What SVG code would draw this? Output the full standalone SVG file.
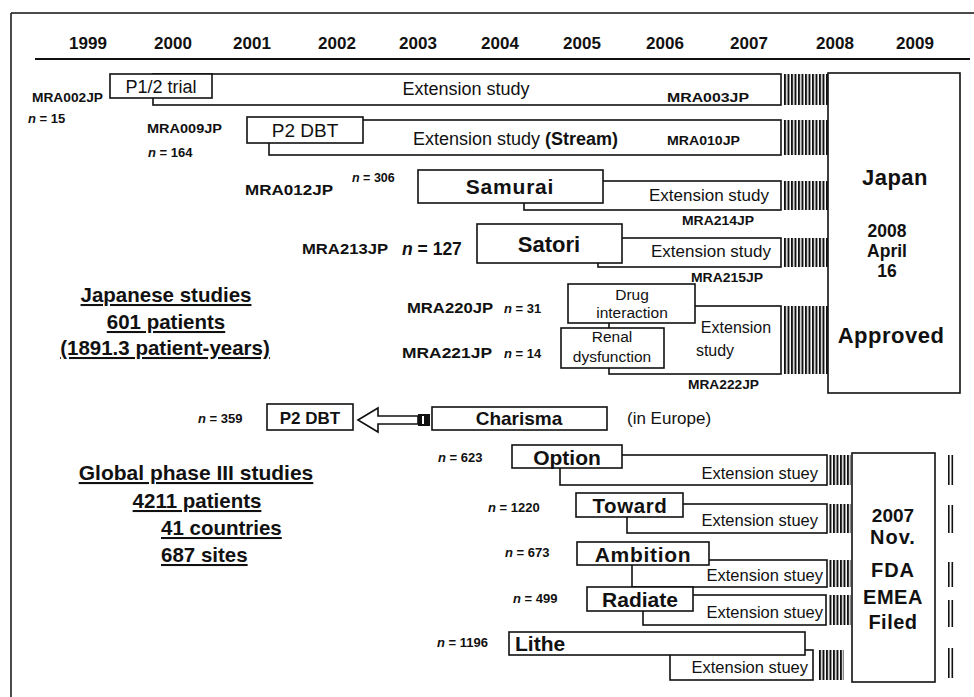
<svg xmlns="http://www.w3.org/2000/svg" width="974" height="697" viewBox="0 0 974 697">
<defs>
<pattern id="hatch" width="3.5" height="10" patternUnits="userSpaceOnUse"><rect x="0" y="0" width="2" height="10" fill="#111"/></pattern>
<style>
text{font-family:"Liberation Sans",Arial,sans-serif;fill:#111}
.box{fill:#fff;stroke:#111;stroke-width:1.6}
.ext{fill:#fff;stroke:#111;stroke-width:1.6}
.hatch{fill:url(#hatch)}
.yr{font-size:17px;font-weight:bold;text-anchor:middle}
.code{font-size:12.5px;font-weight:bold}
.n{font-size:13px;font-weight:bold}
.reg{font-size:18px;text-anchor:middle}
.ttl{font-size:21px;font-weight:bold;text-anchor:middle}
.sum{font-size:20.5px;font-weight:bold;text-decoration:underline}
.ex{font-size:16.5px;text-anchor:end}
.big{font-size:20px;font-weight:bold;text-anchor:middle}
</style>
</defs>
<rect x="0" y="0" width="974" height="697" fill="#fff"/>
<g id="frame" fill="none" stroke="#111" stroke-width="1.5">
<line x1="11" y1="13" x2="974" y2="13"/>
<line x1="11" y1="13" x2="11" y2="697"/>
</g>
<g id="timeline">
<text class="yr" x="88" y="49">1999</text>
<text class="yr" x="173" y="49">2000</text>
<text class="yr" x="252" y="49">2001</text>
<text class="yr" x="337" y="49">2002</text>
<text class="yr" x="418" y="49">2003</text>
<text class="yr" x="500" y="49">2004</text>
<text class="yr" x="582" y="49">2005</text>
<text class="yr" x="665" y="49">2006</text>
<text class="yr" x="749" y="49">2007</text>
<text class="yr" x="835" y="49">2008</text>
<text class="yr" x="915" y="49">2009</text>
<line x1="35" y1="59" x2="970" y2="59" stroke="#111" stroke-width="2"/>
</g>
<g id="mra002">
<rect class="ext" x="153" y="74" width="628" height="31"/>
<rect class="box" x="110" y="74" width="102" height="24"/>
<text class="reg" x="161" y="93">P1/2 trial</text>
<text class="reg" x="466" y="95">Extension study</text>
<text class="code" x="667" y="101.5" textLength="82" lengthAdjust="spacingAndGlyphs">MRA003JP</text>
<text class="code" x="32" y="101.5" textLength="71" lengthAdjust="spacingAndGlyphs">MRA002JP</text>
<text class="n" x="28" y="122.5"><tspan font-style="italic">n</tspan> = 15</text>
<rect class="hatch" x="783" y="74" width="45" height="31"/>
</g>
<g id="mra009">
<rect class="ext" x="269" y="120" width="512" height="35"/>
<rect class="box" x="247" y="117" width="116" height="26"/>
<text class="reg" x="305" y="137" style="font-size:19px">P2 DBT</text>
<text x="413" y="144.5" style="font-size:18px">Extension study <tspan font-weight="bold">(Stream)</tspan></text>
<text class="code" x="667" y="144.5" textLength="73" lengthAdjust="spacingAndGlyphs">MRA010JP</text>
<text class="code" x="147" y="132.5" textLength="75" lengthAdjust="spacingAndGlyphs">MRA009JP</text>
<text class="n" x="148" y="156.5"><tspan font-style="italic">n</tspan> = 164</text>
<rect class="hatch" x="783" y="120" width="45" height="35"/>
</g>
<g id="samurai">
<rect class="ext" x="524" y="181" width="257" height="29"/>
<rect class="box" x="418" y="170" width="185" height="33"/>
<text class="ttl" x="510" y="194" letter-spacing="0.8">Samurai</text>
<text class="reg" x="709" y="201" style="font-size:17px">Extension study</text>
<text class="code" x="682" y="224.5" textLength="72" lengthAdjust="spacingAndGlyphs">MRA214JP</text>
<text class="code" x="245" y="195" style="font-size:15px" textLength="88" lengthAdjust="spacingAndGlyphs">MRA012JP</text>
<text class="n" x="352" y="182" style="font-size:12.5px"><tspan font-style="italic">n</tspan> = 306</text>
<rect class="hatch" x="783" y="181" width="45" height="29"/>
</g>
<g id="satori">
<rect class="ext" x="598" y="238" width="183" height="29"/>
<rect class="box" x="477" y="224" width="145" height="39"/>
<text class="ttl" x="549" y="252" style="font-size:22px">Satori</text>
<text class="reg" x="711" y="257" style="font-size:17px">Extension study</text>
<text class="code" x="691" y="281.5" textLength="72" lengthAdjust="spacingAndGlyphs">MRA215JP</text>
<text class="code" x="302" y="253.5" style="font-size:15px" textLength="86" lengthAdjust="spacingAndGlyphs">MRA213JP</text>
<text class="n" x="402" y="254.5" style="font-size:17.5px"><tspan font-style="italic">n</tspan> = 127</text>
<rect class="hatch" x="783" y="238" width="45" height="29"/>
</g>
<g id="mra220-221">
<rect class="ext" x="609" y="306" width="172" height="68"/>
<rect class="box" x="568" y="284" width="127" height="39"/>
<text class="reg" x="632" y="300" style="font-size:15.5px">Drug</text>
<text class="reg" x="632" y="318" style="font-size:15.5px">interaction</text>
<rect class="box" x="561" y="328" width="103" height="40"/>
<text class="reg" x="612" y="342" style="font-size:15.5px">Renal</text>
<text class="reg" x="612" y="362" style="font-size:15.5px">dysfunction</text>
<text class="reg" x="736" y="333" style="font-size:16px">Extension</text>
<text class="reg" x="715" y="356" style="font-size:16px">study</text>
<text class="code" x="688" y="388.5" textLength="71" lengthAdjust="spacingAndGlyphs">MRA222JP</text>
<text class="code" x="407" y="313" style="font-size:14px" textLength="86" lengthAdjust="spacingAndGlyphs">MRA220JP</text>
<text class="n" x="504" y="312.5"><tspan font-style="italic">n</tspan> = 31</text>
<text class="code" x="402" y="358" style="font-size:14px" textLength="90" lengthAdjust="spacingAndGlyphs">MRA221JP</text>
<text class="n" x="504" y="358"><tspan font-style="italic">n</tspan> = 14</text>
<rect class="hatch" x="783" y="306" width="45" height="68"/>
</g>
<g id="japan-approval">
<rect class="box" x="828" y="73" width="132" height="320"/>
<text class="big" x="895" y="185" style="font-size:22px" letter-spacing="0.5">Japan</text>
<text class="big" x="887" y="237" style="font-size:17.5px">2008</text>
<text class="big" x="887" y="257" style="font-size:17.5px">April</text>
<text class="big" x="887" y="277" style="font-size:17.5px">16</text>
<text class="big" x="891" y="343" style="font-size:22px" letter-spacing="0.5">Approved</text>
</g>
<g id="japanese-summary">
<text class="sum" x="166" y="302" text-anchor="middle">Japanese studies</text>
<text class="sum" x="166" y="329" text-anchor="middle">601 patients</text>
<text class="sum" x="165" y="355" text-anchor="middle">(1891.3 patient-years)</text>
</g>
<g id="p2dbt-global">
<rect class="box" x="267" y="404" width="86" height="26"/>
<text x="310" y="423.5" style="font-size:17px;font-weight:bold" text-anchor="middle">P2 DBT</text>
<text class="n" x="198" y="423"><tspan font-style="italic">n</tspan> = 359</text>
</g>
<g id="charisma">
<rect class="box" x="432" y="407" width="175" height="23"/>
<text x="519" y="425" style="font-size:19px;font-weight:bold" text-anchor="middle">Charisma</text>
<text x="627" y="424" style="font-size:17px">(in Europe)</text>
</g>
<g id="connectors">
<polygon points="358,420 378,408 378,416 418,416 418,424 378,424 378,432" fill="#fff" stroke="#111" stroke-width="1.6"/>
<rect x="418" y="414" width="12" height="12" fill="#111"/>
<rect x="422" y="416" width="2" height="8" fill="#fff"/>
</g>
<g id="global-summary">
<text class="sum" x="196" y="480" text-anchor="middle" style="font-size:21px">Global phase III studies</text>
<text class="sum" x="197" y="508" text-anchor="middle">4211 patients</text>
<text class="sum" x="161" y="535">41 countries</text>
<text class="sum" x="161" y="562">687 sites</text>
</g>
<g id="option">
<rect class="ext" x="560" y="455" width="267" height="30"/>
<rect class="box" x="512" y="445" width="110" height="23"/>
<text class="ttl" x="567" y="465">Option</text>
<text class="ex" x="818" y="478.5">Extension stuey</text>
<text class="n" x="438" y="462"><tspan font-style="italic">n</tspan> = 623</text>
<rect class="hatch" x="829" y="455" width="22" height="30"/>
</g>
<g id="toward">
<rect class="ext" x="627" y="504" width="200" height="29"/>
<rect class="box" x="576" y="493" width="107" height="24"/>
<text class="ttl" x="630" y="513" style="font-size:20.5px" letter-spacing="0.6">Toward</text>
<text class="ex" x="818" y="526">Extension stuey</text>
<text class="n" x="488" y="512"><tspan font-style="italic">n</tspan> = 1220</text>
<rect class="hatch" x="829" y="504" width="22" height="29"/>
</g>
<g id="ambition">
<rect class="ext" x="632" y="560" width="195" height="27"/>
<rect class="box" x="577" y="542" width="132" height="23"/>
<text class="ttl" x="643" y="561.5" letter-spacing="0.7">Ambition</text>
<text class="ex" x="823" y="581">Extension stuey</text>
<text class="n" x="505" y="557"><tspan font-style="italic">n</tspan> = 673</text>
<rect class="hatch" x="829" y="560" width="22" height="27"/>
</g>
<g id="radiate">
<rect class="ext" x="643" y="595" width="183" height="30"/>
<rect class="box" x="587" y="587" width="106" height="24"/>
<text class="ttl" x="640" y="606.5">Radiate</text>
<text class="ex" x="823" y="618">Extension stuey</text>
<text class="n" x="513" y="603"><tspan font-style="italic">n</tspan> = 499</text>
<rect class="hatch" x="829" y="595" width="22" height="30"/>
</g>
<g id="lithe">
<rect class="ext" x="670" y="650" width="143" height="30"/>
<rect class="box" x="509" y="632" width="296" height="23"/>
<text x="515" y="650.5" style="font-size:21px;font-weight:bold">Lithe</text>
<text class="ex" x="808" y="673">Extension stuey</text>
<text class="n" x="437" y="647"><tspan font-style="italic">n</tspan> = 1196</text>
<rect class="hatch" x="818" y="650" width="26" height="30"/>
</g>
<g id="filing">
<rect class="box" x="852" y="453" width="83" height="229"/>
<text class="big" x="893" y="522" style="font-size:19px">2007</text>
<text class="big" x="893" y="544" letter-spacing="1">Nov.</text>
<text class="big" x="893" y="577" letter-spacing="1">FDA</text>
<text class="big" x="893" y="604" letter-spacing="0.5">EMEA</text>
<text class="big" x="893" y="629" letter-spacing="0.5">Filed</text>
<g fill="#111">
<rect x="948" y="455" width="1.6" height="30"/><rect x="951.5" y="455" width="1.6" height="30"/>
<rect x="948" y="505" width="1.6" height="28"/><rect x="951.5" y="505" width="1.6" height="28"/>
<rect x="948" y="562" width="1.6" height="25"/><rect x="951.5" y="562" width="1.6" height="25"/>
<rect x="948" y="600" width="1.6" height="27"/><rect x="951.5" y="600" width="1.6" height="27"/>
<rect x="948" y="648" width="1.6" height="30"/><rect x="951.5" y="648" width="1.6" height="30"/>
</g>
</g>
</svg>
